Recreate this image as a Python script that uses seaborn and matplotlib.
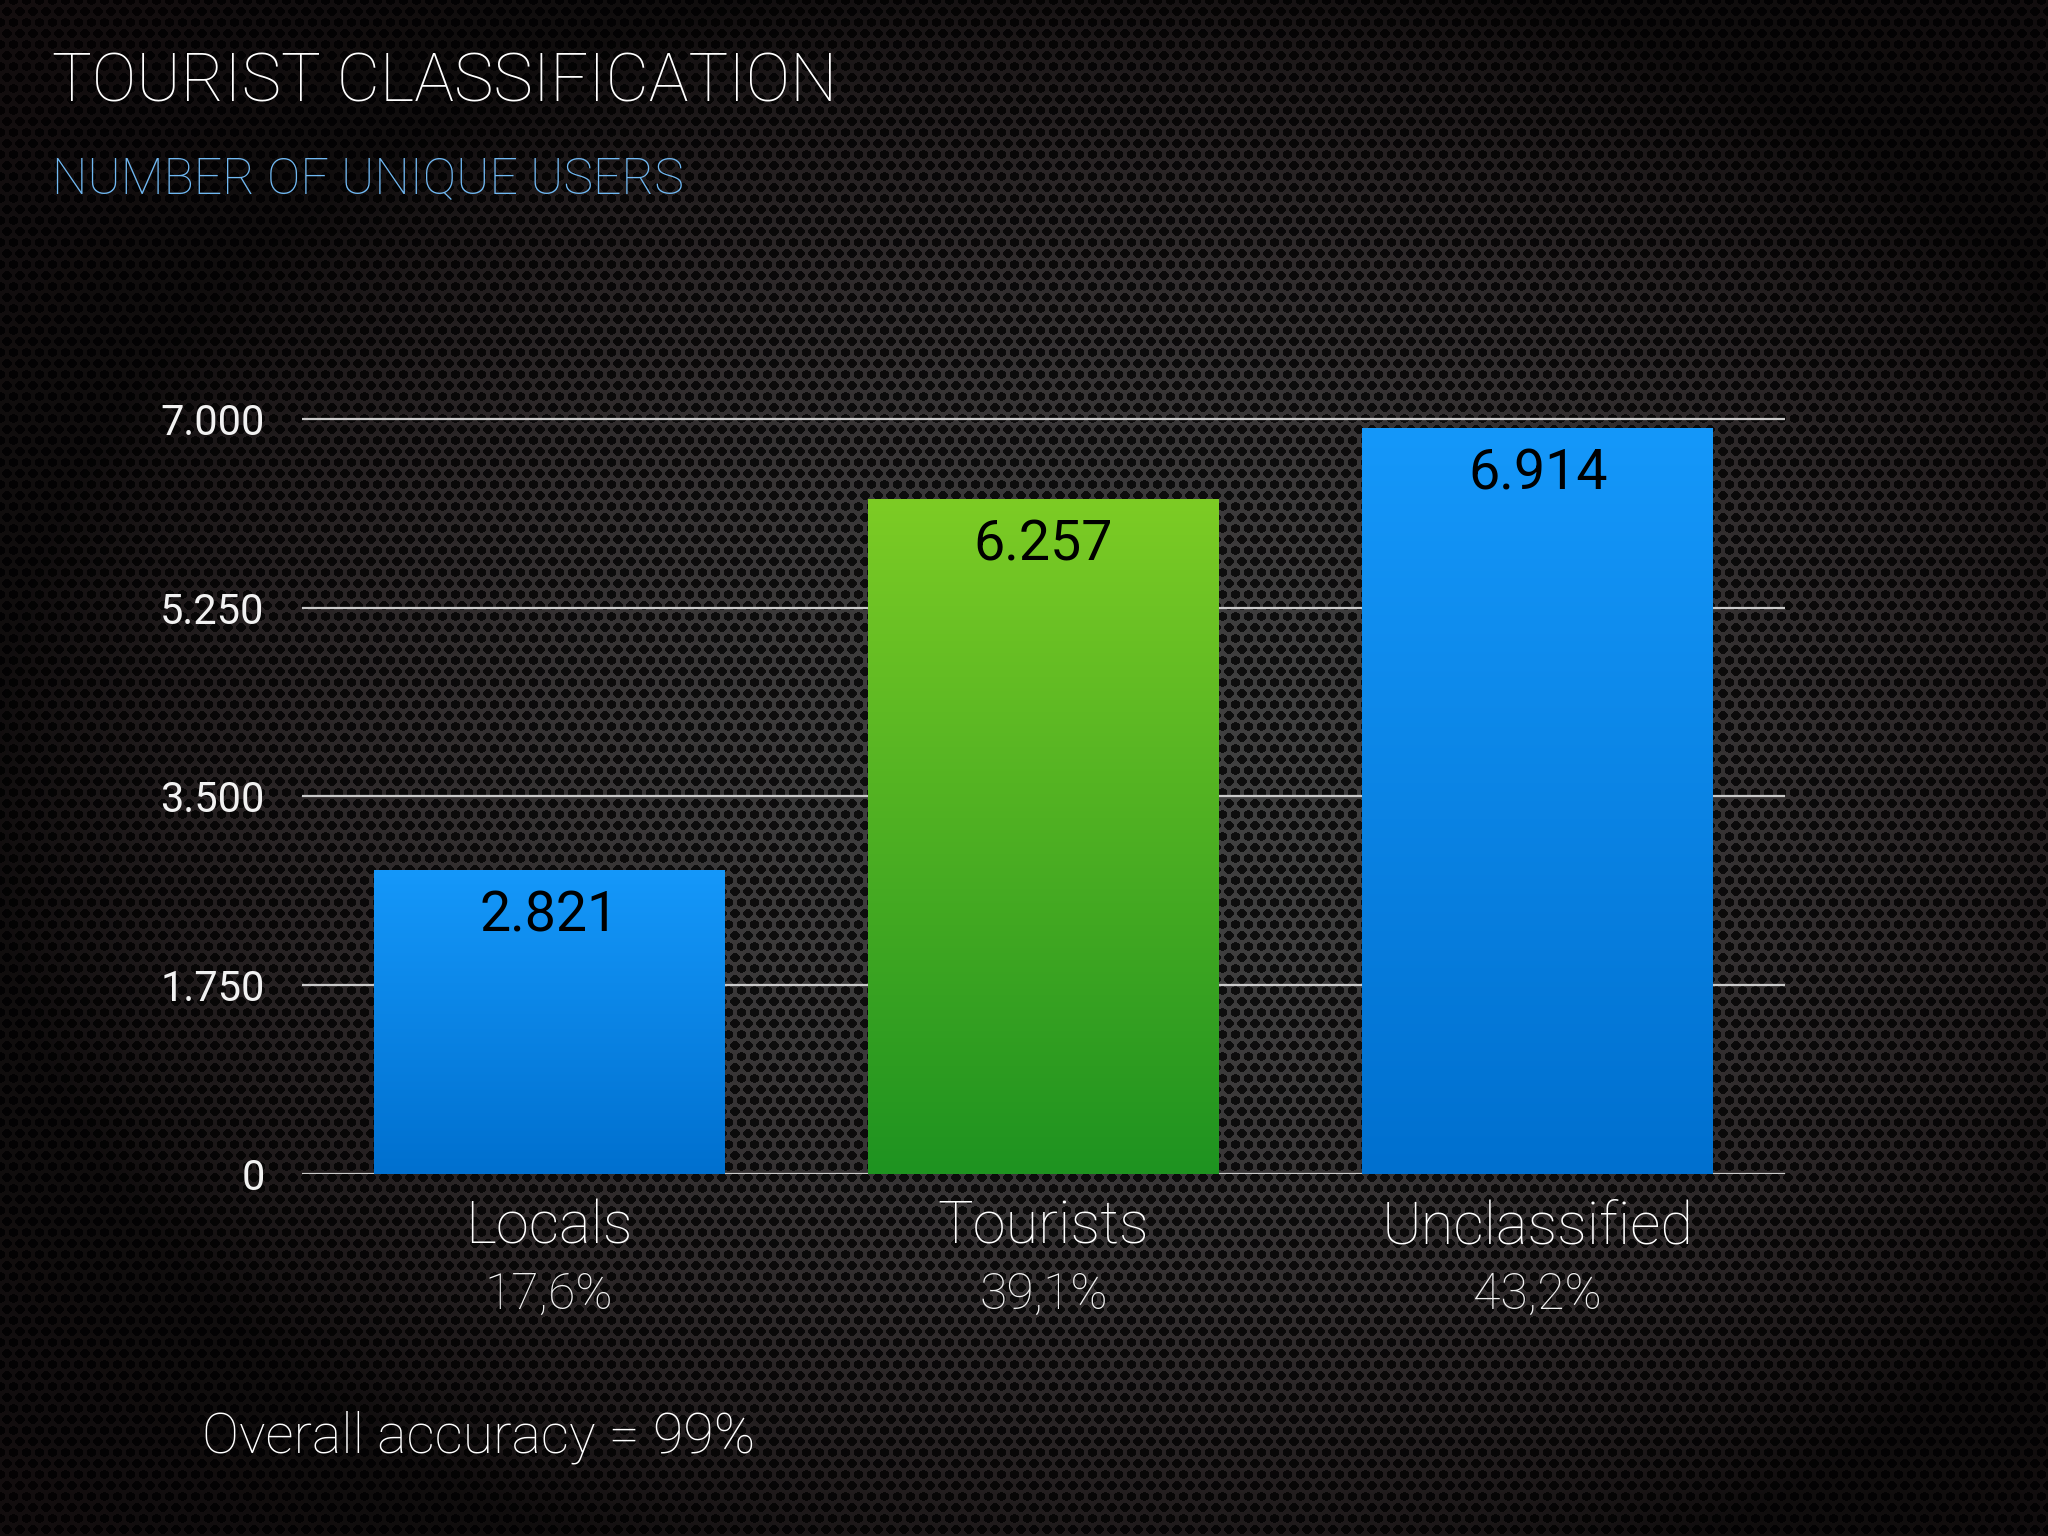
import numpy as np
import pandas as pd
import matplotlib
matplotlib.use("Agg")
import matplotlib.pyplot as plt
import seaborn as sns
from matplotlib.colors import LinearSegmentedColormap
from matplotlib.transforms import blended_transform_factory

categories = ["Locals", "Tourists", "Unclassified"]
users = [2821, 6257, 6914]
shares = ["17,6%", "39,1%", "43,2%"]
yticks = [0, 1750, 3500, 5250, 7000]
ytick_labels = ["0", "1.750", "3.500", "5.250", "7.000"]

bar_top = {"Locals": "#1598fa", "Tourists": "#7dcc25", "Unclassified": "#1598fa"}
bar_bottom = {"Locals": "#0070cf", "Tourists": "#1e9320", "Unclassified": "#0070cf"}

sns.set_theme(style="dark")
plt.rcParams["font.family"] = ["Roboto", "DejaVu Sans"]

W, H = 2048, 1536
fig = plt.figure(figsize=(W / 100, H / 100), dpi=100)

# perforated metal background with a vignette
yy, xx = np.mgrid[0:H, 0:W].astype(float)
r2 = ((xx - 0.55 * W) / W) ** 2 + ((yy - 0.52 * H) / H) ** 2
base = np.clip(0.25 * (1 - 2.6 * r2), 0.05, None)
pitch_x, pitch_y = 13.0, 11.0
row = np.round(yy / pitch_y)
shift = (row % 2) * pitch_x / 2
dx = (xx - shift) - np.round((xx - shift) / pitch_x) * pitch_x
dy = yy - row * pitch_y
hole = (dx ** 2 / 4.8 ** 2 + dy ** 2 / 4.3 ** 2) < 1
lum = np.where(hole, base * 0.22, base)
rgb = np.stack([lum * (1 + 0.9 * r2), lum * (1 + 0.1 * r2), lum * (1 + 0.25 * r2)], axis=-1)
bg = fig.add_axes([0, 0, 1, 1], zorder=-10)
bg.imshow(np.clip(rgb, 0, 1), aspect="auto", interpolation="bilinear")
bg.axis("off")

ax = fig.add_axes([0.1475, 0.2357, 0.724, 0.4987])
ax.set_facecolor("none")
df = pd.DataFrame({"category": categories, "users": users})
sns.barplot(data=df, x="category", y="users", hue="category",
            palette=bar_top, width=0.71, legend=False, ax=ax, zorder=3,
            edgecolor="none", linewidth=0)

# vertical gradient inside each bar
for patch, cat in zip(ax.patches, categories):
    x0, y0 = patch.get_x(), patch.get_y()
    w, h = patch.get_width(), patch.get_height()
    cmap = LinearSegmentedColormap.from_list(cat, [bar_bottom[cat], bar_top[cat]])
    grad = np.linspace(0, 1, 256).reshape(-1, 1)
    im = ax.imshow(grad, extent=[x0, x0 + w, y0, y0 + h], origin="lower",
                   aspect="auto", cmap=cmap, zorder=4)
    im.set_clip_path(patch)
    ax.annotate(f"{int(h):,}".replace(",", "."), (x0 + w / 2, h),
                xytext=(0, -14), textcoords="offset points",
                ha="center", va="top", fontsize=40, color="black", zorder=6)

ax.set_xlim(-0.5, 2.5)
ax.set_ylim(0, 7100)
ax.set_yticks(yticks)
ax.set_yticklabels(ytick_labels)
ax.yaxis.grid(True, color="#c9c9c9", linewidth=1.6)
ax.xaxis.grid(False)
ax.set_axisbelow(True)
for s in ax.spines.values():
    s.set_visible(False)
ax.tick_params(axis="y", length=0, pad=27, labelsize=30, labelcolor="#f2f2f2")
ax.tick_params(axis="x", length=0, pad=18, labelsize=43, labelcolor="white")
ax.set_xlabel("")
ax.set_ylabel("")
for lab in ax.get_xticklabels():
    lab.set_fontweight("light")

trans = blended_transform_factory(ax.transData, fig.transFigure)
for i, s in enumerate(shares):
    ax.text(i, 1 - 1309 / H, s, transform=trans, ha="center", va="baseline",
            fontsize=36, color="#f0f0f0", fontweight="light")

fig.text(52 / W, 1 - 102 / H, "TOURIST CLASSIFICATION", fontsize=48,
         color="white", fontweight="light", va="baseline")
fig.text(52 / W, 1 - 193 / H, "NUMBER OF UNIQUE USERS", fontsize=36,
         color="#70b8f2", fontweight="light", va="baseline")
fig.text(202 / W, 1 - 1452 / H, "Overall accuracy = 99%", fontsize=40,
         color="white", fontweight="light", va="baseline")

fig.savefig("out.png", dpi=100)
